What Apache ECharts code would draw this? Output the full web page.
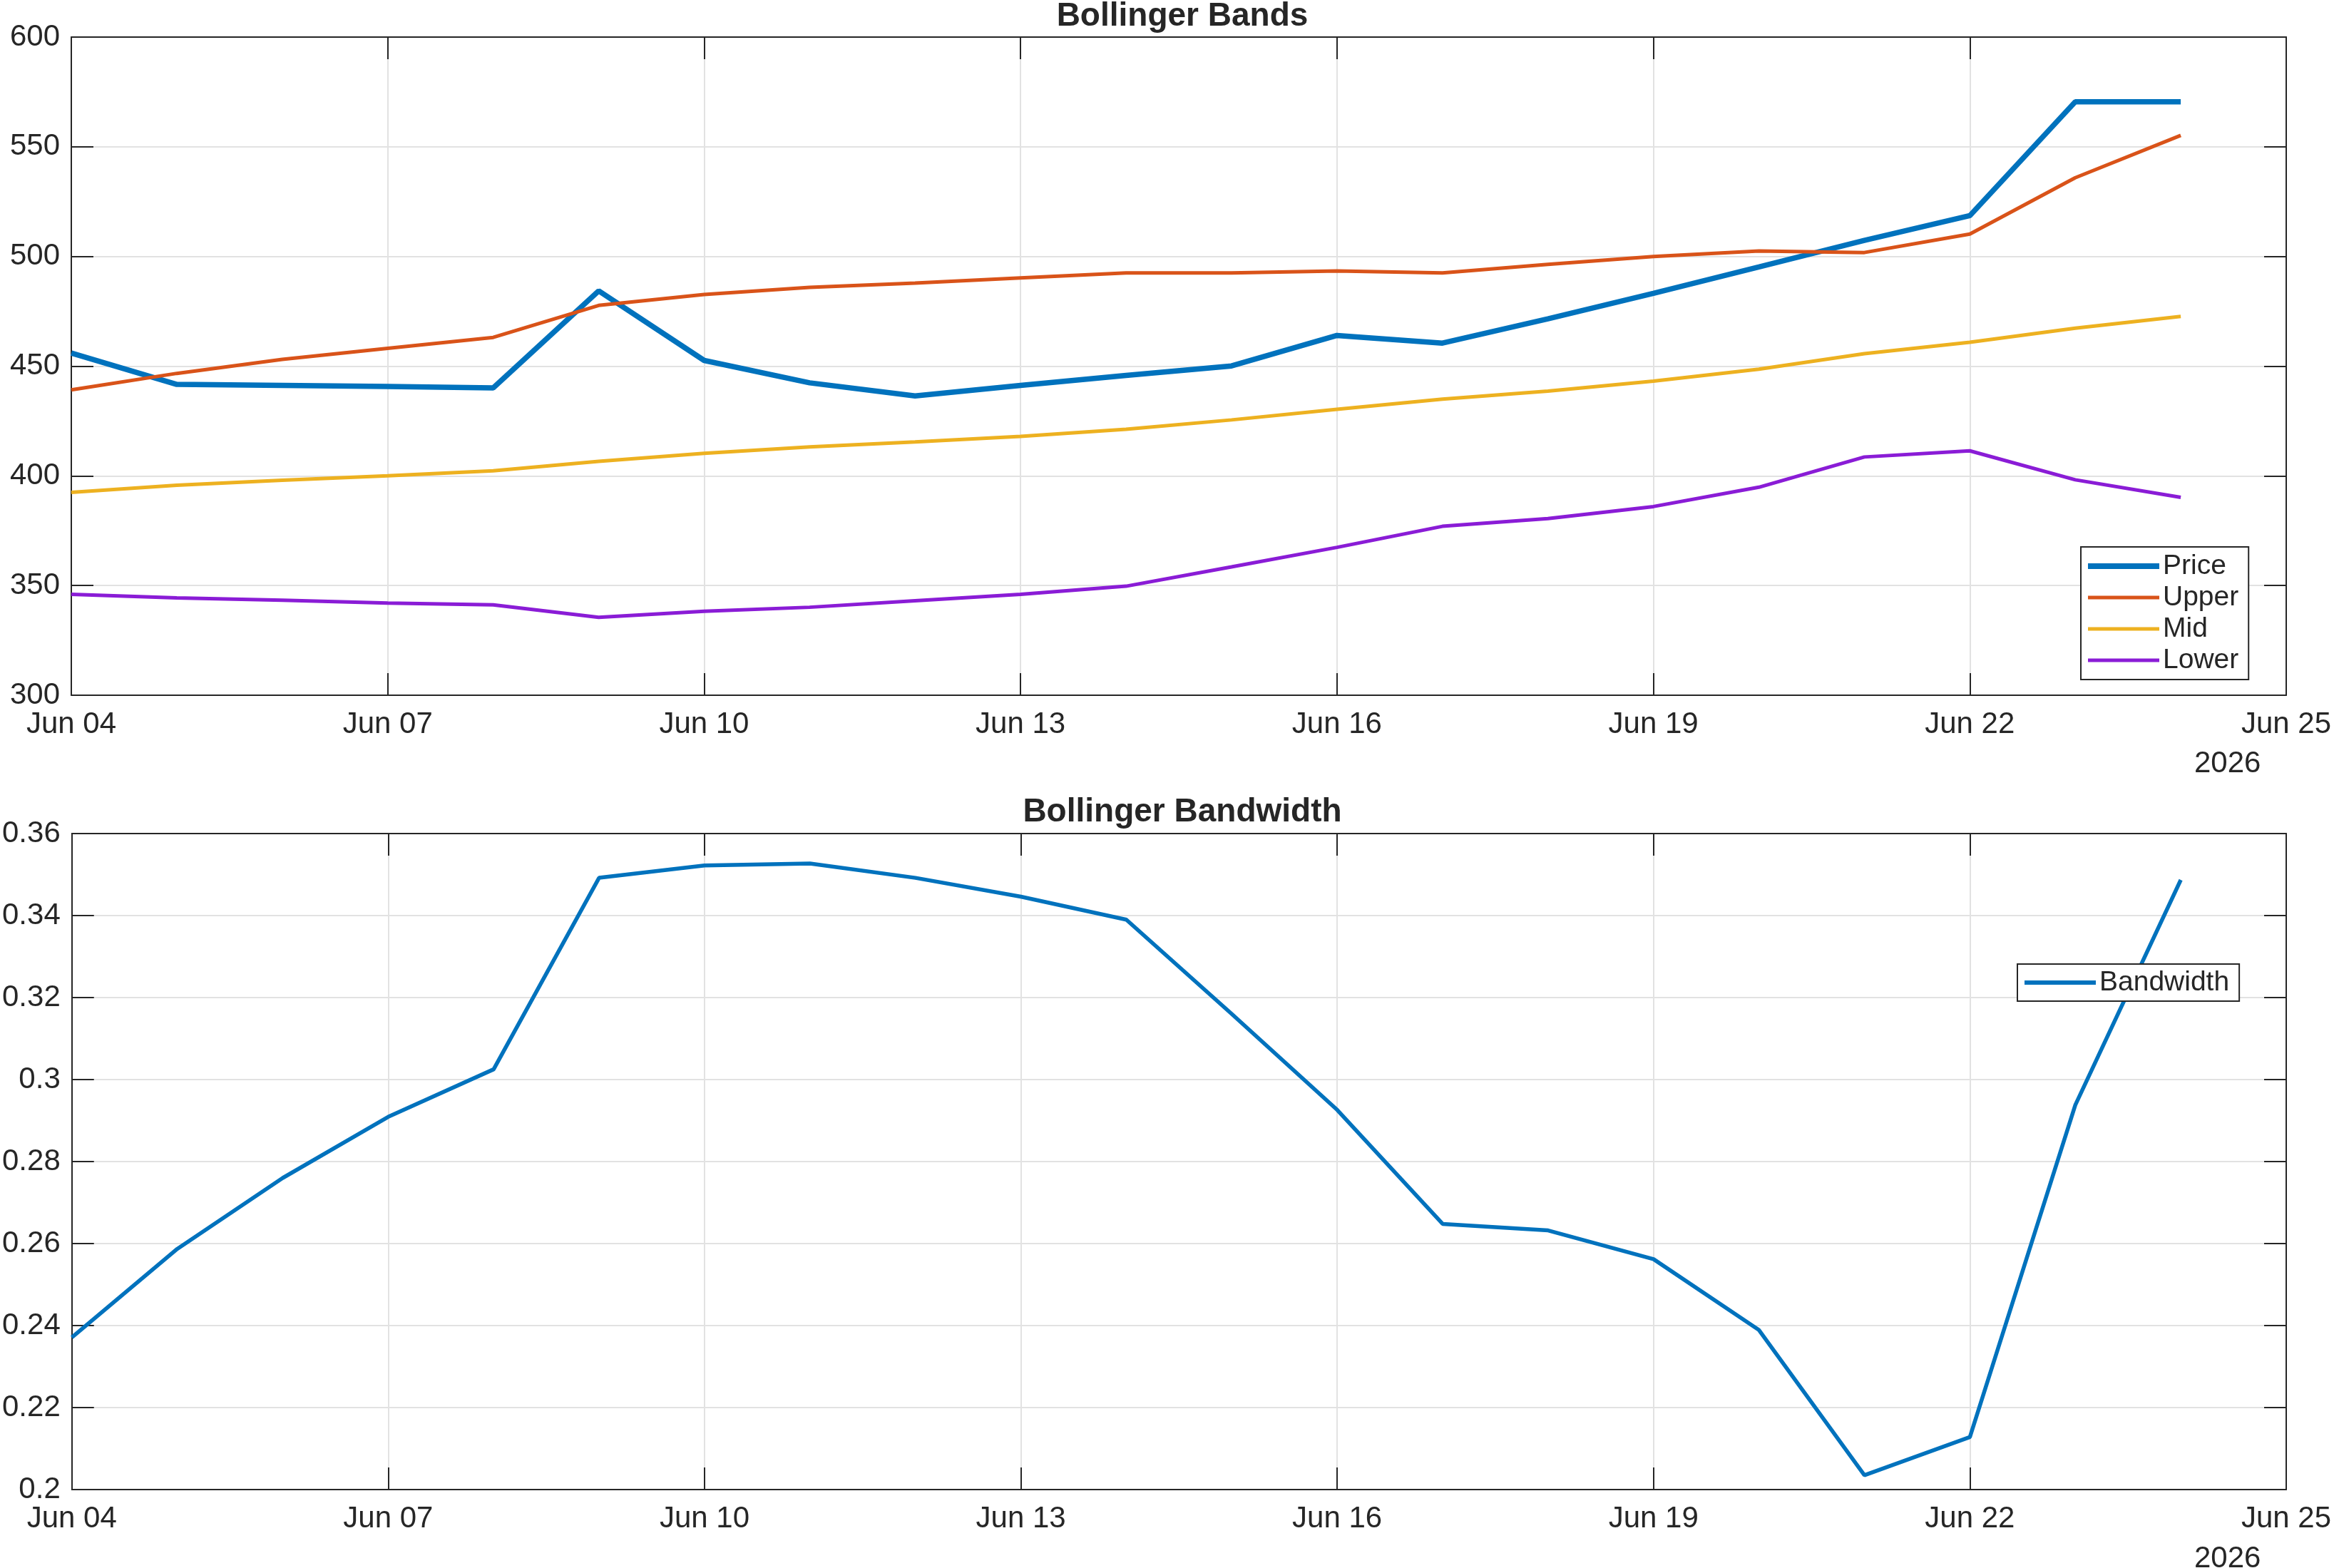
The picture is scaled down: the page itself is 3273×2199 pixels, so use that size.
<!DOCTYPE html>
<html>
<head>
<meta charset="utf-8">
<title>Bollinger Bands</title>
<script src="https://cdn.jsdelivr.net/npm/echarts@6/dist/echarts.min.js"></script>
<style>
  html, body { margin: 0; padding: 0; background: #fff; }
  #main { width: 3273px; height: 2199px; }
</style>
</head>
<body>
<div id="main"></div>
<script>
// data
var dates = ['2026-06-04','2026-06-05','2026-06-06','2026-06-07','2026-06-08','2026-06-09','2026-06-10',
             '2026-06-11','2026-06-12','2026-06-13','2026-06-14','2026-06-15','2026-06-16','2026-06-17',
             '2026-06-18','2026-06-19','2026-06-20','2026-06-21','2026-06-22','2026-06-23','2026-06-24'];
var price = [456.0, 441.7, 441.2, 440.7, 440.1, 484.3, 452.6, 442.4, 436.4, 441.2, 445.8, 450.1, 464.0, 460.5,
             471.6, 483.2, 495.2, 507.3, 518.6, 570.5, 570.5];
var upper = [439.2, 446.7, 453.1, 458.1, 463.1, 477.7, 482.7, 485.9, 487.9, 490.2, 492.5, 492.5, 493.4, 492.5,
             496.4, 500.0, 502.5, 501.8, 510.2, 535.9, 555.2];
var mid = [392.5, 395.7, 398.0, 400.0, 402.3, 406.6, 410.3, 413.2, 415.5, 418.0, 421.2, 425.5, 430.3, 435.0,
           438.6, 443.2, 448.6, 455.7, 460.9, 467.3, 472.7];
var lower = [346.0, 344.4, 343.3, 342.0, 341.2, 335.5, 338.3, 340.1, 343.1, 346.0, 349.7, 358.5, 367.4, 377.0,
             380.5, 386.0, 394.8, 408.6, 411.4, 398.2, 390.2];
var bandwidth = [0.2371, 0.2587, 0.2760, 0.2909, 0.3025, 0.3492, 0.3522, 0.3527, 0.3492, 0.3446, 0.3390,
                 0.3160, 0.2926, 0.2648, 0.2632, 0.2562, 0.2389, 0.2035, 0.2128, 0.2938, 0.3487];

var startDate = '2026-06-04';
var endDate = '2026-06-25';
var yearLabel = '2026';

var DAY = 86400000;
var months = ['Jan','Feb','Mar','Apr','May','Jun','Jul','Aug','Sep','Oct','Nov','Dec'];
function toDay(s){ return Math.round((Date.parse(s + 'T00:00:00Z') - Date.parse(startDate + 'T00:00:00Z')) / DAY); }
function dayLabel(v){
    var d = new Date(Date.parse(startDate + 'T00:00:00Z') + v * DAY);
    var dd = d.getUTCDate();
    return months[d.getUTCMonth()] + ' ' + (dd < 10 ? '0' + dd : dd);
}
function pairs(arr){ return dates.map(function(d, i){ return [toDay(d), arr[i]]; }); }

var FONT = '"Liberation Sans", Arial, Helvetica, sans-serif';
var AX = '#262626';
var GRID = '#e2e2e2';
var lastDay = toDay(endDate);

function xAxes(gridIndex){
    return [{
        gridIndex: gridIndex, type: 'value', min: 0, max: lastDay, interval: 3, position: 'bottom',
        axisLine: { onZero: false, lineStyle: { color: AX, width: 2 } },
        axisTick: { inside: true, length: 31, lineStyle: { color: AX, width: 2 } },
        axisLabel: { fontFamily: FONT, fontSize: 42, color: AX, margin: 20, formatter: dayLabel },
        splitLine: { show: true, lineStyle: { color: GRID, width: 2 } }
    }, {
        gridIndex: gridIndex, type: 'value', min: 0, max: lastDay, interval: 3, position: 'top',
        axisLine: { onZero: false, lineStyle: { color: AX, width: 2 } },
        axisTick: { inside: true, length: 31, lineStyle: { color: AX, width: 2 } },
        axisLabel: { show: false }, splitLine: { show: false }
    }];
}
function yAxes(gridIndex, min, max, step){
    return [{
        gridIndex: gridIndex, type: 'value', min: min, max: max, interval: step, position: 'left',
        axisLine: { show: true, onZero: false, lineStyle: { color: AX, width: 2 } },
        axisTick: { show: true, inside: true, length: 31, lineStyle: { color: AX, width: 2 } },
        axisLabel: { fontFamily: FONT, fontSize: 42, color: AX, margin: 16 },
        splitLine: { show: true, lineStyle: { color: GRID, width: 2 } }
    }, {
        gridIndex: gridIndex, type: 'value', min: min, max: max, interval: step, position: 'right',
        axisLine: { show: true, onZero: false, lineStyle: { color: AX, width: 2 } },
        axisTick: { show: true, inside: true, length: 31, lineStyle: { color: AX, width: 2 } },
        axisLabel: { show: false }, splitLine: { show: false }
    }];
}
function line(name, data, color, width, xi, yi){
    return {
        name: name, type: 'line', data: pairs(data), xAxisIndex: xi, yAxisIndex: yi,
        symbol: 'none', showSymbol: false, color: color,
        lineStyle: { color: color, width: width }
    };
}
function legendItem(name, color, width){
    return { name: name, icon: 'path://M0,0H100V' + width + 'H0Z', itemStyle: { color: color, borderWidth: 0 } };
}

var myChart = echarts.init(document.getElementById('main'));
var option = {
    animation: false,
    backgroundColor: '#fff',
    title: [
        { text: 'Bollinger Bands', left: 1653, top: -5, textAlign: 'center',
          textStyle: { fontFamily: FONT, fontSize: 46, fontWeight: 'bold', color: AX } },
        { text: 'Bollinger Bandwidth', left: 1653, top: 1111, textAlign: 'center',
          textStyle: { fontFamily: FONT, fontSize: 46, fontWeight: 'bold', color: AX } }
    ],
    grid: [
        { left: 100, top: 52, width: 3106, height: 923 },
        { left: 100, top: 1169, width: 3106, height: 920 }
    ],
    xAxis: xAxes(0).concat(xAxes(1)),
    yAxis: yAxes(0, 300, 600, 50).concat(yAxes(1, 0.2, 0.36, 0.02)),
    legend: [{
        data: [legendItem('Price', '#0072BD', 8), legendItem('Upper', '#D95319', 5),
               legendItem('Mid', '#EDB120', 5), legendItem('Lower', '#8A1CD6', 5)],
        orient: 'vertical', left: 2918, top: 767,
        padding: [7, 14, 7, 10], itemGap: 4, itemWidth: 100, itemHeight: 8,
        backgroundColor: '#fff', borderColor: AX, borderWidth: 2, borderRadius: 0,
        textStyle: { fontFamily: FONT, fontSize: 39, color: AX, lineHeight: 40 }
    }, {
        data: [legendItem('Bandwidth', '#0072BD', 6)],
        orient: 'vertical', left: 2829, top: 1352,
        padding: [6, 14, 6, 10], itemWidth: 100, itemHeight: 6,
        backgroundColor: '#fff', borderColor: AX, borderWidth: 2, borderRadius: 0,
        textStyle: { fontFamily: FONT, fontSize: 39, color: AX, lineHeight: 40 }
    }],
    graphic: [
        { type: 'text', left: 3077, top: 1050, style: { text: yearLabel, font: '42px ' + FONT, fill: AX } },
        { type: 'text', left: 3077, top: 2165, style: { text: yearLabel, font: '42px ' + FONT, fill: AX } }
    ],
    series: [
        line('Price', price, '#0072BD', 7.5, 0, 0),
        line('Upper', upper, '#D95319', 5, 0, 0),
        line('Mid', mid, '#EDB120', 5, 0, 0),
        line('Lower', lower, '#8A1CD6', 5, 0, 0),
        line('Bandwidth', bandwidth, '#0072BD', 5.5, 2, 2)
    ]
};
myChart.setOption(option);
</script>
</body>
</html>
